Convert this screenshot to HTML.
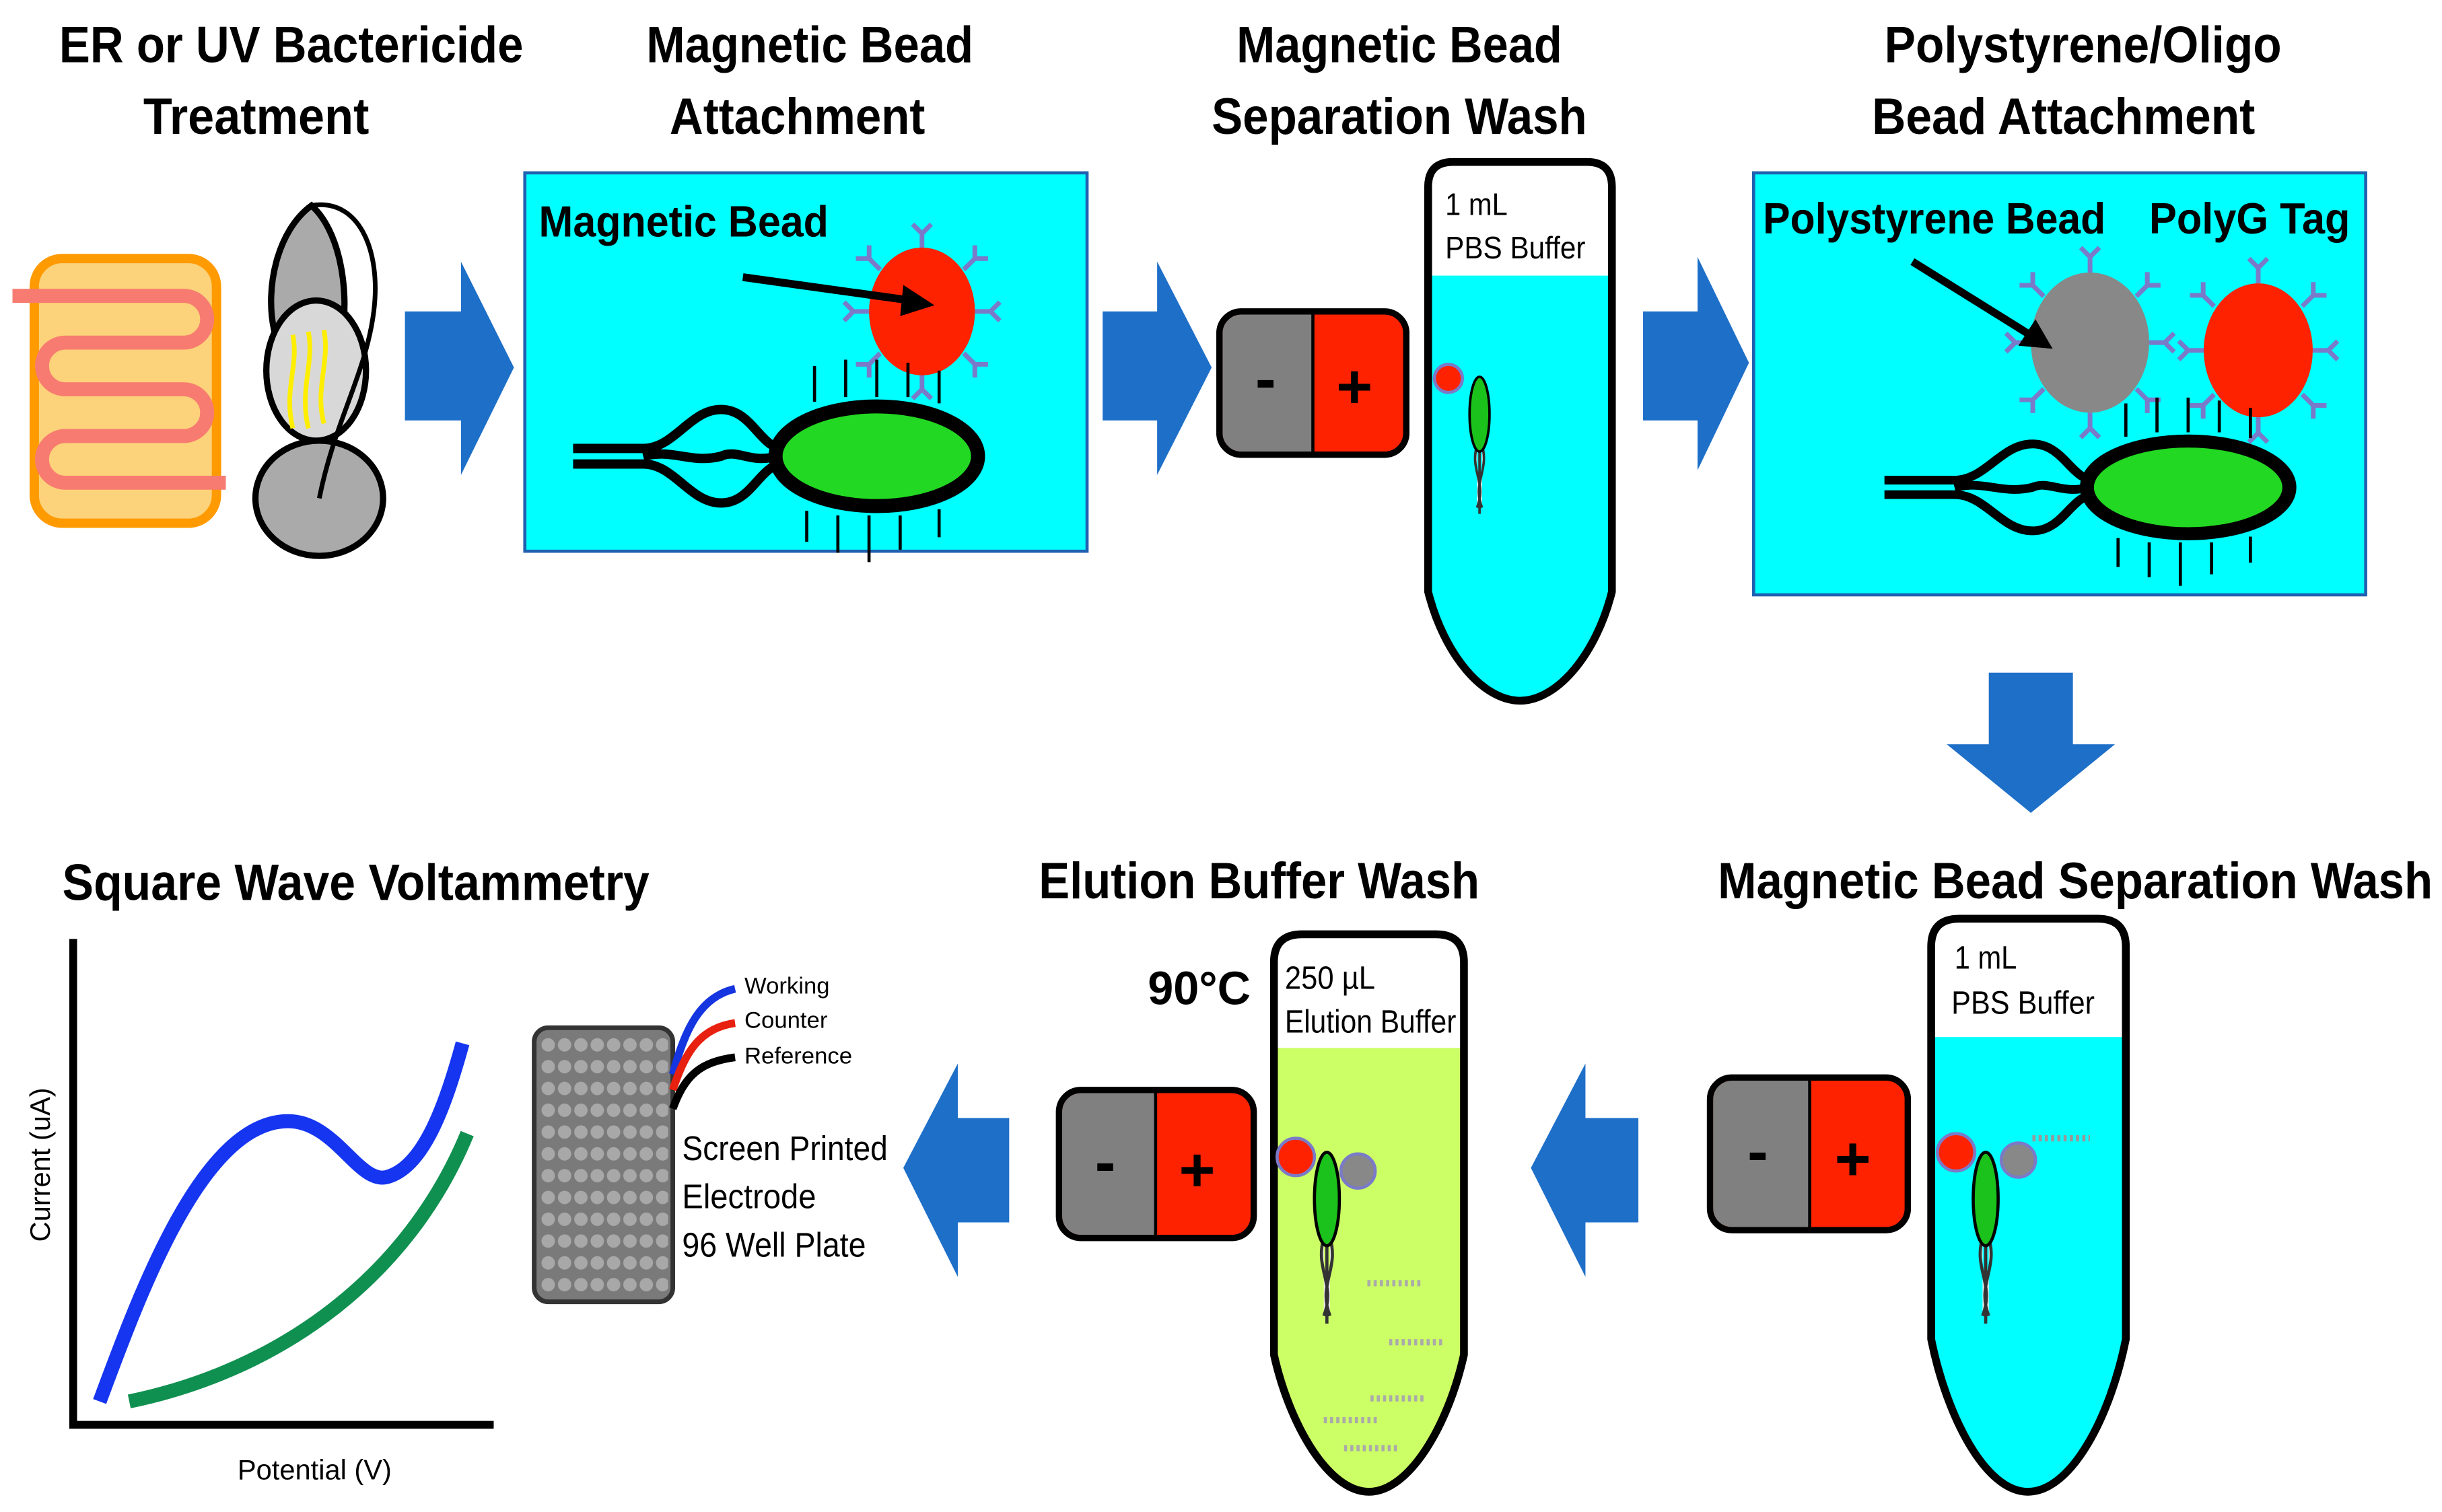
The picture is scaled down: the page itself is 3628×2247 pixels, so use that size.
<!DOCTYPE html>
<html><head><meta charset="utf-8"><style>
html,body{margin:0;padding:0;background:#fff}
svg{display:block}
text{font-family:"Liberation Sans",sans-serif}
.t{font-weight:bold;font-size:33px}
</style></head><body>
<svg width="3628" height="2247" viewBox="0 0 1568 971" preserveAspectRatio="none" xmlns="http://www.w3.org/2000/svg">
<defs>
<g id="ab"><path d="M0,0 V-10 M0,-10 L-6,-16 M0,-10 L6,-16" stroke="#7a7ac8" stroke-width="3" fill="none"/></g>
<g id="bact">
<path d="M-195,-5 H-150 C-130,-5 -120,-30 -100,-30 C-80,-30 -75,-5 -60,-5 M-195,5 H-150 C-130,5 -120,30 -100,30 C-80,30 -75,5 -60,5 M-150,0 C-130,-5 -120,5 -100,0 C-90,-5 -80,5 -65,0" stroke="#000" stroke-width="6" fill="none"/>
<ellipse cx="0" cy="0" rx="65" ry="32" fill="#22d822" stroke="#000" stroke-width="9"/>
<path d="M-40,-35 V-58 M-20,-38 V-62 M0,-38 V-62 M20,-38 V-60 M40,-34 V-55 M-45,35 V55 M-25,38 V62 M-5,38 V68 M15,38 V60 M40,34 V52" stroke="#000" stroke-width="2"/>
</g>
<g id="smallb">
<path d="M-2,25 C-8,45 6,55 -2,75 M2,25 C8,45 -6,55 2,75 M0,25 V80" stroke="#333" stroke-width="2" fill="#eee"/>
<ellipse cx="0" cy="0" rx="8" ry="30" fill="#1bc21b" stroke="#000" stroke-width="2"/>
</g>
</defs>

<g class="t">
<text x="38" y="40" textLength="298" lengthAdjust="spacingAndGlyphs">ER or UV Bactericide</text>
<text x="92" y="86" textLength="145" lengthAdjust="spacingAndGlyphs">Treatment</text>
<text x="415" y="40" textLength="210" lengthAdjust="spacingAndGlyphs">Magnetic Bead</text>
<text x="430" y="86" textLength="164" lengthAdjust="spacingAndGlyphs">Attachment</text>
<text x="794" y="40" textLength="209" lengthAdjust="spacingAndGlyphs">Magnetic Bead</text>
<text x="778" y="86" textLength="241" lengthAdjust="spacingAndGlyphs">Separation Wash</text>
<text x="1210" y="40" textLength="255" lengthAdjust="spacingAndGlyphs">Polystyrene/Oligo</text>
<text x="1202" y="86" textLength="246" lengthAdjust="spacingAndGlyphs">Bead Attachment</text>
<text x="40" y="578" textLength="377" lengthAdjust="spacingAndGlyphs">Square Wave Voltammetry</text>
<text x="667" y="577" textLength="283" lengthAdjust="spacingAndGlyphs">Elution Buffer Wash</text>
<text x="1103" y="577" textLength="459" lengthAdjust="spacingAndGlyphs">Magnetic Bead Separation Wash</text>
<text x="737" y="645" textLength="66" lengthAdjust="spacingAndGlyphs" style="font-size:30px">90°C</text>
</g>

<rect x="22" y="166" width="117" height="170" rx="18" fill="#fcd27a" stroke="#ff9a00" stroke-width="6"/>
<path d="M8,190 H118 A15,15 0 0 1 118,220 H42 A15,15 0 0 0 42,250 H118 A15,15 0 0 1 118,280 H42 A15,15 0 0 0 42,310 H145" stroke="#f77b70" stroke-width="9" fill="none"/>
<ellipse cx="205" cy="320" rx="41" ry="37" fill="#aaa" stroke="#000" stroke-width="4"/>
<path d="M200,132 C178,148 170,185 176,212 L220,212 C224,185 218,148 200,132 Z" fill="#aaa" stroke="#000" stroke-width="4"/>
<ellipse cx="203" cy="238" rx="32" ry="45" fill="#d8d8d8" stroke="#000" stroke-width="4"/>
<path d="M200,132 C230,127 245,160 240,200 C235,240 215,270 205,320" stroke="#000" stroke-width="3" fill="none"/>
<path d="M188,215 C192,235 182,250 188,275 M198,213 C202,233 192,250 198,275 M208,212 C212,232 202,250 208,272" stroke="#ffee00" stroke-width="3" fill="none"/>

<g fill="#1e6fc8">
<rect x="260" y="200" width="37" height="70"/><polygon points="296,168 330,236 296,305"/>
<rect x="708" y="200" width="36" height="70"/><polygon points="743,168 778,236 743,305"/>
<rect x="1055" y="200" width="36" height="70"/><polygon points="1090,165 1123,233 1090,302"/>
<rect x="1277" y="432" width="54" height="47"/><polygon points="1250,478 1358,478 1304,522"/>
<rect x="1017" y="718" width="35" height="67"/><polygon points="1018,683 983,750 1018,820"/>
<rect x="614" y="718" width="34" height="67"/><polygon points="615,683 580,750 615,820"/>
</g>

<rect x="337" y="111" width="361" height="243" fill="#00ffff" stroke="#2060b0" stroke-width="2"/>
<text x="346" y="152" font-weight="bold" font-size="28" textLength="186" lengthAdjust="spacingAndGlyphs">Magnetic  Bead</text>
<g transform="translate(592,200)">
<use href="#ab" transform="rotate(0) translate(0,-40)"/><use href="#ab" transform="rotate(45) translate(0,-38)"/><use href="#ab" transform="rotate(90) translate(0,-34)"/><use href="#ab" transform="rotate(135) translate(0,-38)"/><use href="#ab" transform="rotate(180) translate(0,-40)"/><use href="#ab" transform="rotate(225) translate(0,-38)"/><use href="#ab" transform="rotate(270) translate(0,-34)"/><use href="#ab" transform="rotate(315) translate(0,-38)"/>
<ellipse cx="0" cy="0" rx="34" ry="41" fill="#ff2200"/>
</g>
<line x1="477" y1="178" x2="585" y2="193" stroke="#000" stroke-width="5"/>
<polygon points="600,196 580,183 578,203"/>
<use href="#bact" transform="translate(563,293)"/>

<g stroke="#000" stroke-width="4">
<rect x="783" y="200" width="120" height="92" rx="14" fill="#ff2200"/>
<path d="M843,202 H797 A12,12 0 0 0 785,214 V278 A12,12 0 0 0 797,290 H843 Z" fill="#808080" stroke="none"/>
<rect x="783" y="200" width="120" height="92" rx="14" fill="none"/>
<line x1="843" y1="200" x2="843" y2="292" stroke-width="2"/>
<rect x="680" y="700" width="125" height="95" rx="14" fill="#ff2200"/>
<path d="M742,702 H694 A12,12 0 0 0 682,714 V781 A12,12 0 0 0 694,793 H742 Z" fill="#808080" stroke="none"/>
<rect x="680" y="700" width="125" height="95" rx="14" fill="none"/>
<line x1="742" y1="700" x2="742" y2="795" stroke-width="2"/>
<rect x="1098" y="692" width="127" height="98" rx="14" fill="#ff2200"/>
<path d="M1162,694 H1112 A12,12 0 0 0 1100,706 V776 A12,12 0 0 0 1112,788 H1162 Z" fill="#808080" stroke="none"/>
<rect x="1098" y="692" width="127" height="98" rx="14" fill="none"/>
<line x1="1162" y1="692" x2="1162" y2="790" stroke-width="2"/>
</g>
<g font-size="40">
<text x="806" y="257" font-weight="bold">-</text><text x="858" y="262" font-weight="bold">+</text>
<text x="703" y="760" font-weight="bold">-</text><text x="757" y="765" font-weight="bold">+</text>
<text x="1122" y="753" font-weight="bold">-</text><text x="1178" y="758" font-weight="bold">+</text>
</g>

<clipPath id="c1"><path d="M917,380 V120 Q917,104 933,104 H1019 Q1035,104 1035,120 V380 C1025,420 1000,450 976,450 C952,450 927,420 917,380 Z"/></clipPath>
<rect x="900" y="177" width="150" height="290" fill="#00ffff" clip-path="url(#c1)"/>
<path d="M917,380 V120 Q917,104 933,104 H1019 Q1035,104 1035,120 V380 C1025,420 1000,450 976,450 C952,450 927,420 917,380 Z" fill="none" stroke="#000" stroke-width="5"/>
<text x="928" y="138" font-size="20" textLength="40" lengthAdjust="spacingAndGlyphs">1 mL</text>
<text x="928" y="166" font-size="20" textLength="90" lengthAdjust="spacingAndGlyphs">PBS Buffer</text>
<circle cx="930" cy="243" r="9" fill="#ff2200" stroke="#7a7ac8" stroke-width="2"/>
<use href="#smallb" transform="translate(950,266) scale(0.8)"/>

<clipPath id="c3"><path d="M1240,860 V608 Q1240,590 1258,590 H1347 Q1365,590 1365,608 V860 C1355,910 1330,958 1302,958 C1275,958 1250,910 1240,860 Z"/></clipPath>
<rect x="1230" y="666" width="150" height="300" fill="#00ffff" clip-path="url(#c3)"/>
<path d="M1240,860 V608 Q1240,590 1258,590 H1347 Q1365,590 1365,608 V860 C1355,910 1330,958 1302,958 C1275,958 1250,910 1240,860 Z" fill="none" stroke="#000" stroke-width="5"/>
<text x="1255" y="622" font-size="21" textLength="40" lengthAdjust="spacingAndGlyphs">1 mL</text>
<text x="1253" y="651" font-size="21" textLength="92" lengthAdjust="spacingAndGlyphs">PBS Buffer</text>
<circle cx="1256" cy="740" r="12" fill="#ff2200" stroke="#7a7ac8" stroke-width="2"/>
<circle cx="1296" cy="745" r="11" fill="#888" stroke="#7a7ac8" stroke-width="2"/>
<use href="#smallb" transform="translate(1275,770)"/>
<path d="M1305,731 H1342" stroke="#999" stroke-width="4" stroke-dasharray="2 2"/>

<clipPath id="c2"><path d="M818,870 V618 Q818,600 836,600 H922 Q940,600 940,618 V870 C930,915 905,958 879,958 C853,958 828,915 818,870 Z"/></clipPath>
<rect x="810" y="673" width="140" height="300" fill="#ccff66" clip-path="url(#c2)"/>
<path d="M818,870 V618 Q818,600 836,600 H922 Q940,600 940,618 V870 C930,915 905,958 879,958 C853,958 828,915 818,870 Z" fill="none" stroke="#000" stroke-width="5"/>
<text x="825" y="635" font-size="21" textLength="58" lengthAdjust="spacingAndGlyphs">250 µL</text>
<text x="825" y="663" font-size="21" textLength="110" lengthAdjust="spacingAndGlyphs">Elution Buffer</text>
<circle cx="832" cy="743" r="12" fill="#ff2200" stroke="#7a7ac8" stroke-width="2"/>
<circle cx="872" cy="752" r="11" fill="#888" stroke="#7a7ac8" stroke-width="2"/>
<use href="#smallb" transform="translate(852,770)"/>
<g stroke="#aaa" stroke-width="4" stroke-dasharray="2 2">
<path d="M878,824 H914 M892,862 H928 M880,898 H916 M850,912 H886 M863,930 H898"/>
</g>

<rect x="1126" y="111" width="393" height="271" fill="#00ffff" stroke="#2060b0" stroke-width="2"/>
<text x="1132" y="150" font-weight="bold" font-size="28" textLength="220" lengthAdjust="spacingAndGlyphs">Polystyrene  Bead</text>
<text x="1380" y="150" font-weight="bold" font-size="28" textLength="129" lengthAdjust="spacingAndGlyphs">PolyG Tag</text>
<g transform="translate(1342,220)">
<use href="#ab" transform="rotate(0) translate(0,-45)"/><use href="#ab" transform="rotate(45) translate(0,-42)"/><use href="#ab" transform="rotate(90) translate(0,-38)"/><use href="#ab" transform="rotate(135) translate(0,-42)"/><use href="#ab" transform="rotate(180) translate(0,-45)"/><use href="#ab" transform="rotate(225) translate(0,-42)"/><use href="#ab" transform="rotate(270) translate(0,-38)"/><use href="#ab" transform="rotate(315) translate(0,-42)"/>
<ellipse cx="0" cy="0" rx="38" ry="45" fill="#888"/>
</g>
<g transform="translate(1450,225)">
<use href="#ab" transform="rotate(0) translate(0,-43)"/><use href="#ab" transform="rotate(45) translate(0,-40)"/><use href="#ab" transform="rotate(90) translate(0,-35)"/><use href="#ab" transform="rotate(135) translate(0,-40)"/><use href="#ab" transform="rotate(180) translate(0,-43)"/><use href="#ab" transform="rotate(225) translate(0,-40)"/><use href="#ab" transform="rotate(270) translate(0,-35)"/><use href="#ab" transform="rotate(315) translate(0,-40)"/>
<ellipse cx="0" cy="0" rx="35" ry="43" fill="#ff2200"/>
</g>
<line x1="1228" y1="168" x2="1305" y2="216" stroke="#000" stroke-width="5"/>
<polygon points="1318,224 1296,222 1307,205"/>
<use href="#bact" transform="translate(1405,313) scale(1,0.93)"/>

<rect x="343" y="660" width="89" height="176" rx="9" fill="#7a7a7a" stroke="#333" stroke-width="3"/>
<pattern id="dots" x="347" y="664" width="10.5" height="14" patternUnits="userSpaceOnUse"><circle cx="5" cy="7" r="4.3" fill="#a8a8a8"/></pattern>
<rect x="347" y="664" width="82" height="168" fill="url(#dots)"/>
<path d="M432,690 C440,660 450,640 472,635" stroke="#1535e0" stroke-width="5" fill="none"/>
<path d="M432,700 C440,675 450,660 472,657" stroke="#e82010" stroke-width="5" fill="none"/>
<path d="M432,712 C440,690 450,682 472,679" stroke="#000" stroke-width="5" fill="none"/>
<g font-size="15"><text x="478" y="638">Working</text><text x="478" y="660">Counter</text><text x="478" y="683">Reference</text></g>
<g font-size="22"><text x="438" y="745" textLength="132" lengthAdjust="spacingAndGlyphs">Screen Printed</text><text x="438" y="776" textLength="86" lengthAdjust="spacingAndGlyphs">Electrode</text><text x="438" y="807" textLength="118" lengthAdjust="spacingAndGlyphs">96 Well Plate</text></g>

<path d="M47,603 V915 H317" stroke="#000" stroke-width="5" fill="none"/>
<path d="M64,900 C90,830 130,720 185,720 C215,720 230,760 248,756 C272,750 286,710 297,670" stroke="#1535f0" stroke-width="9" fill="none"/>
<path d="M83,900 C180,880 262,820 300,728" stroke="#109050" stroke-width="9" fill="none"/>
<text transform="translate(32,748) rotate(-90)" font-size="18" text-anchor="middle">Current (uA)</text>
<text x="202" y="950" font-size="18" text-anchor="middle">Potential (V)</text>
</svg>
</body></html>
